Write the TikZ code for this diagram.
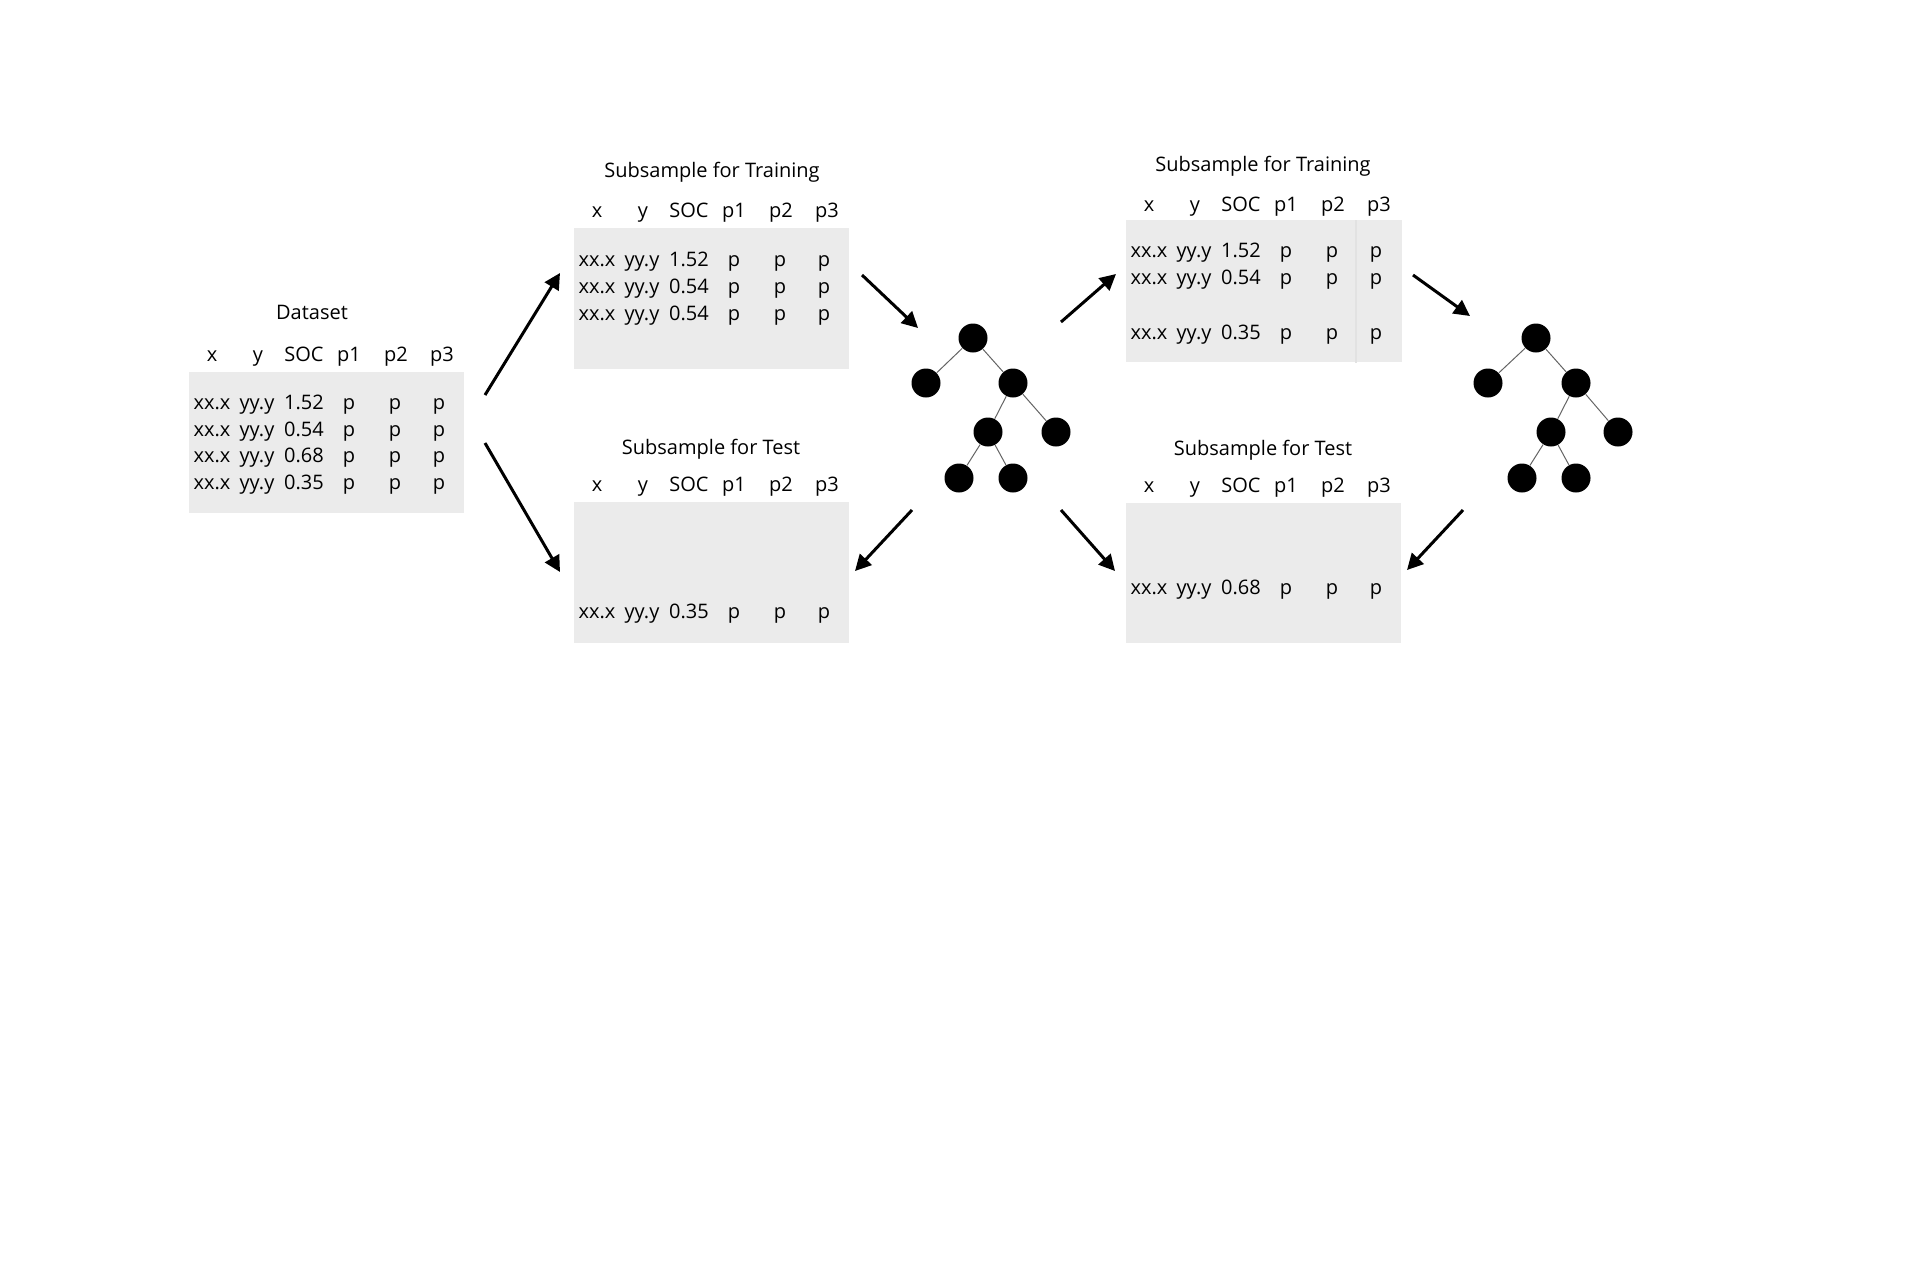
\documentclass[tikz,border=0pt]{standalone}
\usepackage{fontspec}
\setmainfont{Open Sans}
\usetikzlibrary{arrows.meta}
\definecolor{boxgray}{RGB}{235,235,235}
\definecolor{divgray}{RGB}{226,226,226}
\definecolor{edgegray}{RGB}{100,100,100}
\newcommand\tabrow[9]{%
  \node[lbl] (#1a) at (#2+23,#3) {#4};
  \node[lbl] (#1b) at (#2+68,#3) {#5};
  \node[lbl] (#1c) at (#2+115,#3) {#6};
  \node[lbl] (#1d) at (#2+160,#3) {#7};
  \node[lbl] (#1e) at (#2+206,#3) {#8};
  \node[lbl] (#1f) at (#2+250,#3) {#9};
}
\newcommand\tabhead[3]{%
  \node[lbl] (#1a) at (#2+23,#3) {x};
  \node[lbl] (#1b) at (#2+69,#3) {y};
  \node[lbl] (#1c) at (#2+115,#3) {SOC};
  \node[lbl] (#1d) at (#2+160,#3) {p1};
  \node[lbl] (#1e) at (#2+207,#3) {p2};
  \node[lbl] (#1f) at (#2+253,#3) {p3};
}
\begin{document}
\begin{tikzpicture}[x=0.5pt,y=-0.5pt,
  tbox/.style={fill=boxgray, draw=none, inner sep=0pt, anchor=north west},
  lbl/.style={anchor=base, inner sep=0pt, font=\fontsize{10}{12}\selectfont},
  ttl/.style={anchor=base, inner sep=0pt, font=\fontsize{10}{12}\selectfont},
  arr/.style={line width=1.5pt, -{Triangle[length=8pt,width=8pt]}},
  tn/.style={circle, fill=black, minimum size=14.5pt, inner sep=0pt},
  te/.style={line width=0.5pt, draw=edgegray}]
\useasboundingbox[fill=white] (0,0) rectangle (1920,1280);

% boxes
\node[tbox, minimum width=137.5pt, minimum height=70.5pt] (ds) at (189,372) {};
\node[tbox, minimum width=137.5pt, minimum height=70.5pt] (tr1) at (574,228) {};
\node[tbox, minimum width=137.5pt, minimum height=70.5pt] (te1) at (574,502) {};
\node[tbox, minimum width=138pt, minimum height=71pt] (tr2) at (1126,220) {};
\node[tbox, minimum width=137.5pt, minimum height=70pt] (te2) at (1126,503) {};
\draw[divgray, line width=0.6pt] (tr2.north west -| 1356,0) -- (tr2.south west -| 1356,0);

% titles
\node[ttl] (tds) at (312,319) {Dataset};
\node[ttl] (ttr1) at (712,177) {Subsample for Training};
\node[ttl] (tte1) at (711,454) {Subsample for Test};
\node[ttl] (ttr2) at (1263,171) {Subsample for Training};
\node[ttl] (tte2) at (1263,455) {Subsample for Test};

% Dataset
\tabhead{dh}{189}{361}
\tabrow{dr1}{189}{409}{xx.x}{yy.y}{1.52}{p}{p}{p}
\tabrow{dr2}{189}{436}{xx.x}{yy.y}{0.54}{p}{p}{p}
\tabrow{dr3}{189}{462}{xx.x}{yy.y}{0.68}{p}{p}{p}
\tabrow{dr4}{189}{489}{xx.x}{yy.y}{0.35}{p}{p}{p}

% Training 1
\tabhead{ah}{574}{217}
\tabrow{ar1}{574}{266}{xx.x}{yy.y}{1.52}{p}{p}{p}
\tabrow{ar2}{574}{293}{xx.x}{yy.y}{0.54}{p}{p}{p}
\tabrow{ar3}{574}{320}{xx.x}{yy.y}{0.54}{p}{p}{p}

% Test 1
\tabhead{bh}{574}{491}
\tabrow{br1}{574}{618}{xx.x}{yy.y}{0.35}{p}{p}{p}

% Training 2
\tabhead{ch}{1126}{211}
\tabrow{cr1}{1126}{257}{xx.x}{yy.y}{1.52}{p}{p}{p}
\tabrow{cr2}{1126}{284}{xx.x}{yy.y}{0.54}{p}{p}{p}
\tabrow{cr3}{1126}{339}{xx.x}{yy.y}{0.35}{p}{p}{p}

% Test 2
\tabhead{eh}{1126}{492}
\tabrow{er1}{1126}{594}{xx.x}{yy.y}{0.68}{p}{p}{p}

% tree 1
\node[tn] (a1) at (973,338) {};
\node[tn] (b1) at (926,383) {};
\node[tn] (c1) at (1013,383) {};
\node[tn] (d1) at (988,432) {};
\node[tn] (e1) at (1056,432) {};
\node[tn] (f1) at (959,478) {};
\node[tn] (g1) at (1013,478) {};
\draw[te] (a1) -- (b1); \draw[te] (a1) -- (c1);
\draw[te] (c1) -- (d1); \draw[te] (c1) -- (e1);
\draw[te] (d1) -- (f1); \draw[te] (d1) -- (g1);

% tree 2
\node[tn] (a2) at (1536,338) {};
\node[tn] (b2) at (1488,383) {};
\node[tn] (c2) at (1576,383) {};
\node[tn] (d2) at (1551,432) {};
\node[tn] (e2) at (1618,432) {};
\node[tn] (f2) at (1522,478) {};
\node[tn] (g2) at (1576,478) {};
\draw[te] (a2) -- (b2); \draw[te] (a2) -- (c2);
\draw[te] (c2) -- (d2); \draw[te] (c2) -- (e2);
\draw[te] (d2) -- (f2); \draw[te] (d2) -- (g2);

% arrow end points
\coordinate (s1) at (485,395);  \coordinate (e1a) at (560,273);
\coordinate (s2) at (485,443);  \coordinate (e2a) at (560,572);
\coordinate (s3) at (862,275);  \coordinate (e3a) at (918,328);
\coordinate (s4) at (912,510);  \coordinate (e4a) at (855,571);
\coordinate (s5) at (1061,322); \coordinate (e5a) at (1116,274);
\coordinate (s6) at (1061,510); \coordinate (e6a) at (1115,571);
\coordinate (s7) at (1413,275); \coordinate (e7a) at (1470,316);
\coordinate (s8) at (1463,510); \coordinate (e8a) at (1407,570);
\draw[arr] (s1) -- (e1a);
\draw[arr] (s2) -- (e2a);
\draw[arr] (s3) -- (e3a);
\draw[arr] (s4) -- (e4a);
\draw[arr] (s5) -- (e5a);
\draw[arr] (s6) -- (e6a);
\draw[arr] (s7) -- (e7a);
\draw[arr] (s8) -- (e8a);
\end{tikzpicture}
\end{document}
